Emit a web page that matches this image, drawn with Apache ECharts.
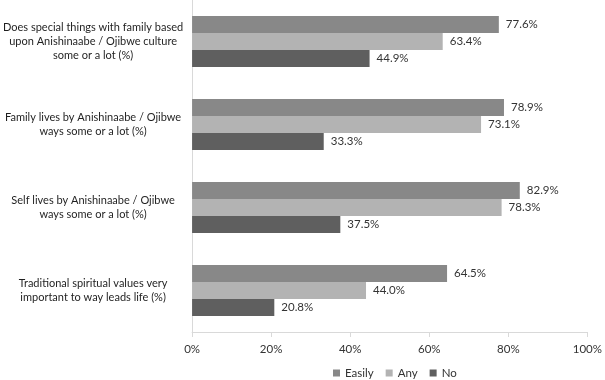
<!DOCTYPE html>
<html>
<head>
<meta charset="utf-8">
<script src="https://cdn.jsdelivr.net/npm/echarts@6/dist/echarts.min.js"></script>
<style>
  html, body { margin: 0; padding: 0; background: #fff; }
  #chart { width: 605px; height: 380px; }
</style>
</head>
<body>
<div id="chart"></div>
<script>
// categories, top to bottom
const categories = [
  'Does special things with family based\nupon Anishinaabe / Ojibwe culture\nsome or a lot (%)',
  'Family lives by Anishinaabe / Ojibwe\nways some or a lot (%)',
  'Self lives by Anishinaabe / Ojibwe\nways some or a lot (%)',
  'Traditional spiritual values very\nimportant to way leads life (%)'
];
const easily = [77.6, 78.9, 82.9, 64.5];
const any = [63.4, 73.1, 78.3, 44.0];
const no = [44.9, 33.3, 37.5, 20.8];
const xTicks = [0, 20, 40, 60, 80, 100];

const font = 'Lato, "Open Sans", sans-serif';
const chart = echarts.init(document.getElementById('chart'));

// 数值标签
const valueLabel = {
  show: true,
  position: 'right',
  distance: 7,
  fontFamily: font,
  fontSize: 11.5,
  color: '#333333',
  formatter: p => p.value.toFixed(1) + '%'
};

const mkSeries = (name, data, color) => ({
  name: name,
  type: 'bar',
  data: data,
  barWidth: 17,
  barGap: '0%',
  itemStyle: { color: color },
  label: valueLabel,
  silent: true
});

const option = {
  animation: false,
  textStyle: { fontFamily: font },
  grid: { left: 188, right: 13, top: 0, bottom: 48 },
  legend: {
    left: 333,
    top: 367,
    padding: 0,
    icon: 'rect',
    itemWidth: 7,
    itemHeight: 7,
    itemGap: 12,
    textStyle: { fontFamily: font, fontSize: 11.5, color: '#333333' },
    data: ['Easily', 'Any', 'No']
  },
  xAxis: {
    type: 'value',
    min: 0,
    max: 100,
    interval: 20,
    axisLine: { show: true, lineStyle: { color: '#d9d9d9' } },
    axisTick: { show: true, length: 5, lineStyle: { color: '#d9d9d9' } },
    splitLine: { show: false },
    axisLabel: {
      margin: 11,
      fontFamily: font,
      fontSize: 11.5,
      color: '#333333',
      formatter: v => xTicks.includes(v) ? v + '%' : ''
    }
  },
  yAxis: {
    type: 'category',
    inverse: true,
    data: categories,
    axisLine: { show: true, lineStyle: { color: '#d9d9d9' } },
    axisTick: { show: false },
    axisLabel: {
      align: 'center',
      margin: 99,
      padding: [14, 0, 0, 0],
      lineHeight: 14,
      fontFamily: font,
      fontSize: 11,
      color: '#1f1f1f'
    }
  },
  series: [
    mkSeries('Easily', easily, '#888888'),
    mkSeries('Any', any, '#b3b3b3'),
    mkSeries('No', no, '#5f5f5f')
  ]
};

chart.setOption(option);
</script>
</body>
</html>
